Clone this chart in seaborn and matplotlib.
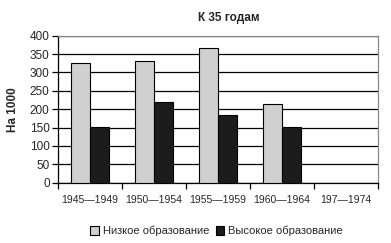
import numpy as np
import pandas as pd
import matplotlib
matplotlib.use("Agg")
import matplotlib.pyplot as plt
import seaborn as sns

categories = ["1945—1949", "1950—1954", "1955—1959", "1960—1964", "197—1974"]
low_edu = [325, 330, 366, 213, np.nan]
high_edu = [152, 219, 184, 152, np.nan]
series = ["Низкое образование", "Высокое образование"]
title = "К 35 годам"
ylabel = "На 1000"

df = pd.DataFrame({
    "period": categories * 2,
    "value": low_edu + high_edu,
    "series": [series[0]] * len(categories) + [series[1]] * len(categories),
})

sns.set_style("white")
plt.rcParams["font.family"] = ["Liberation Sans", "DejaVu Sans"]

fig = plt.figure(figsize=(3.91, 2.43), dpi=100)
ax = fig.add_axes([0.1483, 0.2481, 0.9668 - 0.1483, 0.853 - 0.2481])

sns.barplot(data=df, x="period", y="value", hue="series", order=categories,
            hue_order=series, palette=["#d0d0d0", "#1c1c1c"], width=0.6,
            edgecolor="black", linewidth=0.8, ax=ax, legend=True, zorder=3)

ax.set_ylim(0, 400)
ax.set_xlim(-0.5, len(categories) - 0.5)
ax.set_yticks(np.arange(0, 401, 50))
ax.set_yticklabels([str(v) for v in range(0, 401, 50)], fontsize=8.5)
ax.grid(axis="y", color="black", linewidth=0.9, zorder=0)
ax.set_axisbelow(True)

ax.set_xticks(np.arange(-0.5, len(categories), 1.0))
ax.set_xticklabels([""] * (len(categories) + 1))
ax.set_xticks(np.arange(len(categories)), minor=True)
ax.set_xticklabels(categories, minor=True, fontsize=7.5)
ax.tick_params(axis="x", which="major", direction="out", length=4, width=0.9, color="black", bottom=True)
ax.tick_params(axis="x", which="minor", length=0, pad=9)
ax.tick_params(axis="y", direction="out", length=4, width=0.9, color="black", left=True, pad=2)

for s in ["left", "bottom"]:
    ax.spines[s].set_color("black")
    ax.spines[s].set_linewidth(0.9)
for s in ["right", "top"]:
    ax.spines[s].set_color("#8a8a8a")
    ax.spines[s].set_linewidth(0.9)
    ax.spines[s].set_visible(True)

ax.set_xlabel("")
ax.set_ylabel(ylabel, fontsize=8.5, fontweight="bold", labelpad=8)
fig.text(0.585, 0.925, title, ha="center", va="center", fontsize=8.5, fontweight="bold")

leg = ax.legend(loc="center", bbox_to_anchor=(0.495, -0.33), ncol=2, frameon=False,
                fontsize=8.0, handlelength=0.8, handleheight=0.8, handletextpad=0.3,
                columnspacing=0.6, borderaxespad=0)

fig.savefig("out.png", dpi=100)
